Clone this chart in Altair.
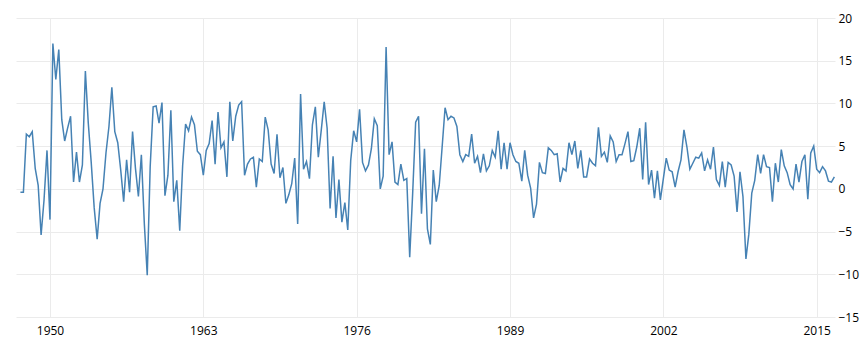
import altair as alt
import pandas as pd

start_year = 1947
start_quarter = 2  # first observation: 1947 Q2

growth = [
    -0.4, -0.4, 6.4,
    6.1, 6.7, 2.4, 0.4,
    -5.4, -1.3, 4.5, -3.6,
    17.0, 12.8, 16.3, 8.1,
    5.6, 7.1, 8.5, 0.8,
    4.3, 0.8, 2.8, 13.8,
    7.7, 3.1, -2.2, -5.9,
    -1.7, 0.0, 4.2, 7.3,
    11.9, 6.7, 5.4, 2.2,
    -1.5, 3.4, -0.4, 6.7,
    2.4, -0.9, 4.0, -4.1,
    -10.1, 2.6, 9.6, 9.7,
    7.7, 10.1, -0.8, 1.6,
    9.2, -1.5, 1.0, -4.9,
    2.7, 7.6, 6.8, 8.4,
    7.5, 4.4, 4.0, 1.6,
    4.5, 5.3, 8.0, 2.9,
    9.0, 4.8, 5.5, 1.4,
    10.2, 5.6, 8.5, 9.8,
    10.2, 1.6, 2.9, 3.5,
    3.7, 0.2, 3.5, 3.2,
    8.4, 6.9, 2.9, 1.8,
    6.4, 1.3, 2.5, -1.7,
    -0.7, 0.6, 3.6, -4.1,
    11.1, 2.3, 3.2, 1.2,
    7.5, 9.6, 3.7, 6.9,
    10.2, 7.1, -2.3, 3.8,
    -3.4, 1.1, -3.9, -1.6,
    -4.8, 3.3, 6.8, 5.5,
    9.3, 3.1, 2.1, 2.8,
    4.7, 8.2, 7.4, 0.0,
    1.5, 16.6, 4.0, 5.5,
    0.8, 0.5, 2.9, 1.0,
    1.2, -8.0, -0.5, 7.8,
    8.5, -2.9, 4.7, -4.7,
    -6.5, 2.2, -1.5, 0.4,
    4.9, 9.5, 8.1, 8.5,
    8.3, 7.3, 4.0, 3.2,
    4.0, 3.8, 6.4, 3.0,
    3.8, 1.9, 4.1, 2.1,
    2.7, 4.5, 3.7, 6.8,
    2.3, 5.4, 2.3, 5.4,
    4.0, 3.2, 3.0, 0.9,
    4.5, 1.6, 0.1, -3.4,
    -1.8, 3.1, 1.9, 1.8,
    4.8, 4.5, 4.0, 4.1,
    0.8, 2.4, 2.1, 5.4,
    4.0, 5.6, 2.4, 4.5,
    1.4, 1.4, 3.5, 3.0,
    2.7, 7.2, 3.8, 4.3,
    3.1, 6.2, 5.5, 3.2,
    4.0, 4.0, 5.3, 6.7,
    3.2, 3.3, 4.9, 7.1,
    1.1, 7.8, 0.5, 2.2,
    -1.1, 2.1, -1.3, 1.2,
    3.6, 2.2, 2.0, 0.2,
    2.0, 3.4, 6.9, 4.9,
    2.3, 3.0, 3.7, 3.6,
    4.2, 2.1, 3.4, 2.3,
    4.9, 1.1, 0.4, 3.2,
    0.2, 3.1, 2.8, 1.5,
    -2.7, 2.0, -0.9, -8.2,
    -5.3, -0.5, 1.0, 4.0,
    1.8, 4.0, 2.6, 2.5,
    -1.5, 3.0, 0.8, 4.6,
    2.7, 1.9, 0.5, 0.0,
    2.9, 0.8, 3.2, 4.0,
    -1.2, 4.2, 5.0, 2.3,
    1.9, 2.6, 2.1, 0.9,
    0.8, 1.4,
]

tick_years = [1950, 1963, 1976, 1989, 2002, 2015]
y_ticks = [-15, -10, -5, 0, 5, 10, 15, 20]

dates = []
y, q = start_year, start_quarter
for _ in growth:
    dates.append(pd.Timestamp(year=y, month=q * 3, day=1) + pd.offsets.MonthEnd(0))
    q += 1
    if q > 4:
        q = 1
        y += 1

df = pd.DataFrame({"date": dates, "value": growth})

font = "Open Sans"

chart = (
    alt.Chart(df)
    .mark_line(color="#4682b4", strokeWidth=1.5)
    .encode(
        x=alt.X(
            "date:T",
            scale=alt.Scale(
                domain=[
                    alt.DateTime(year=1947, month=2, date=13),
                    alt.DateTime(year=2016, month=7, date=20),
                ]
            ),
            axis=alt.Axis(
                values=[alt.DateTime(year=yy, month=1, date=1) for yy in tick_years],
                format="%Y",
                title=None,
                domain=False,
                ticks=False,
                labelPadding=8,
                labelFont=font,
                labelFontSize=12,
                labelColor="#000000",
                gridColor="#ebebeb",
                gridWidth=1,
                labelFlush=False,
            ),
        ),
        y=alt.Y(
            "value:Q",
            scale=alt.Scale(domain=[-15, 20], nice=False, zero=False),
            axis=alt.Axis(
                orient="right",
                values=y_ticks,
                title=None,
                domain=False,
                ticks=False,
                labelPadding=3,
                labelFont=font,
                labelFontSize=12,
                labelColor="#000000",
                gridColor="#ebebeb",
                gridWidth=1,
            ),
        ),
    )
    .properties(
        width=819,
        height=299,
        background="white",
        autosize=alt.AutoSizeParams(type="none"),
        padding={"left": 16, "top": 18, "right": 27, "bottom": 34},
    )
    .configure_view(strokeWidth=0, strokeOpacity=0)
)

chart.save("out.html", embed_options={"renderer": "svg", "actions": False})
